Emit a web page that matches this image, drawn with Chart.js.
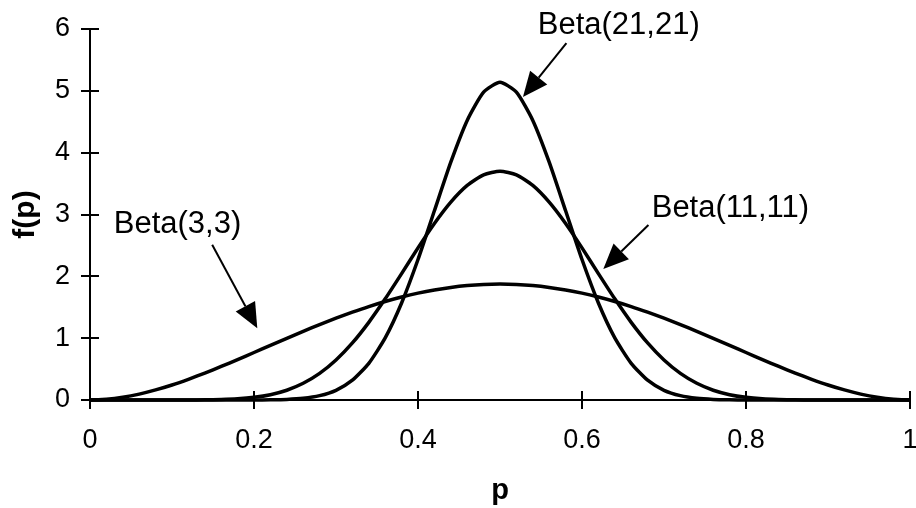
<!DOCTYPE html>
<html>
<head>
<meta charset="utf-8">
<script src="https://cdn.jsdelivr.net/npm/chart.js@4"></script>
<style>
html, body { margin: 0; padding: 0; background: #fff; }
#wrap { width: 916px; height: 508px; }
</style>
</head>
<body>
<div id="wrap"><canvas id="beta"></canvas></div>
<script>
// p values along the x axis
var pValues = [0, 0.02, 0.04, 0.06, 0.08, 0.1, 0.12, 0.14, 0.16, 0.18,
  0.2, 0.22, 0.24, 0.26, 0.28, 0.3, 0.32, 0.34, 0.36, 0.38,
  0.4, 0.42, 0.44, 0.46, 0.48, 0.5, 0.52, 0.54, 0.56, 0.58,
  0.6, 0.62, 0.64, 0.66, 0.68, 0.7, 0.72, 0.74, 0.76, 0.78,
  0.8, 0.82, 0.84, 0.86, 0.88, 0.9, 0.92, 0.94, 0.96, 0.98, 1];

// f(p)
var beta33 = [0, 0.012, 0.044, 0.095, 0.163, 0.243, 0.335, 0.435, 0.542, 0.654,
  0.768, 0.883, 0.998, 1.111, 1.219, 1.323, 1.420, 1.511, 1.593, 1.665,
  1.728, 1.780, 1.821, 1.851, 1.869, 1.875, 1.869, 1.851, 1.821, 1.780,
  1.728, 1.665, 1.593, 1.511, 1.420, 1.323, 1.219, 1.111, 0.998, 0.883,
  0.768, 0.654, 0.542, 0.435, 0.335, 0.243, 0.163, 0.095, 0.044, 0.012, 0];

var beta1111 = [0, 0, 0, 0, 0, 0.0001, 0.0007, 0.0025, 0.0075, 0.019,
  0.043, 0.086, 0.158, 0.270, 0.430, 0.647, 0.923, 1.256, 1.636, 2.044,
  2.460, 2.855, 3.200, 3.470, 3.641, 3.700, 3.641, 3.470, 3.200, 2.855,
  2.460, 2.044, 1.636, 1.256, 0.923, 0.647, 0.430, 0.270, 0.158, 0.086,
  0.043, 0.019, 0.0075, 0.0025, 0.0007, 0.0001, 0, 0, 0, 0, 0];

var beta2121 = [0, 0, 0, 0, 0, 0, 0, 0, 0, 0.0001,
  0.0007, 0.003, 0.009, 0.027, 0.070, 0.157, 0.320, 0.593, 1.004, 1.569,
  2.272, 3.060, 3.846, 4.521, 4.978, 5.140, 4.978, 4.521, 3.846, 3.060,
  2.272, 1.569, 1.004, 0.593, 0.320, 0.157, 0.070, 0.027, 0.009, 0.003,
  0.0007, 0.0001, 0, 0, 0, 0, 0, 0, 0, 0, 0];

var xTickLabels = ['0', '0.2', '0.4', '0.6', '0.8', '1'];
var yTickLabels = ['0', '1', '2', '3', '4', '5', '6'];

// callouts: text spot, arrow tail and arrow tip, all in data units
var notes = [
  { text: 'Beta(21,21)', at: [0.546, 5.92], from: [0.581, 5.77], to: [0.528, 4.90] },
  { text: 'Beta(11,11)', at: [0.685, 2.96], from: [0.681, 2.83], to: [0.626, 2.12] },
  { text: 'Beta(3,3)',   at: [0.029, 2.70], from: [0.149, 2.51], to: [0.204, 1.16] }
];

function toPoints(vals) {
  return pValues.map(function (p, i) { return { x: p, y: vals[i] }; });
}

Chart.defaults.font.family = '"Liberation Sans", Arial, sans-serif';
Chart.defaults.color = '#000';

// ticks that cross the axis + the arrow callouts
var extras = {
  id: 'extras',
  afterDraw: function (chart) {
    var c = chart.ctx, xs = chart.scales.x, ys = chart.scales.y;
    c.save();
    c.strokeStyle = '#000';
    c.fillStyle = '#000';
    c.lineWidth = 2;
    c.beginPath();
    xs.ticks.forEach(function (t, i) {
      var px = Math.round(xs.getPixelForTick(i));
      c.moveTo(px, ys.bottom);
      c.lineTo(px, ys.bottom - 9);
    });
    ys.ticks.forEach(function (t, i) {
      var py = Math.round(ys.getPixelForTick(i));
      c.moveTo(xs.left, py);
      c.lineTo(xs.left + 9, py);
    });
    c.stroke();

    c.font = '31px "Liberation Sans", Arial, sans-serif';
    c.textAlign = 'left';
    c.textBaseline = 'alphabetic';
    notes.forEach(function (n) {
      c.fillText(n.text, xs.getPixelForValue(n.at[0]), ys.getPixelForValue(n.at[1]));
      var x1 = xs.getPixelForValue(n.from[0]), y1 = ys.getPixelForValue(n.from[1]);
      var x2 = xs.getPixelForValue(n.to[0]), y2 = ys.getPixelForValue(n.to[1]);
      var ang = Math.atan2(y2 - y1, x2 - x1);
      var headLen = 25, headW = 11;
      var bx = x2 - headLen * Math.cos(ang), by = y2 - headLen * Math.sin(ang);
      c.beginPath();
      c.moveTo(x1, y1);
      c.lineTo(bx, by);
      c.stroke();
      c.beginPath();
      c.moveTo(x2, y2);
      c.lineTo(bx + headW * Math.sin(ang), by - headW * Math.cos(ang));
      c.lineTo(bx - headW * Math.sin(ang), by + headW * Math.cos(ang));
      c.closePath();
      c.fill();
    });
    c.restore();
  }
};

var lineStyle = {
  borderColor: '#000',
  backgroundColor: 'transparent',
  borderWidth: 3.5,
  pointRadius: 0,
  fill: false,
  tension: 0.2,
  clip: 6
};

new Chart(document.getElementById('beta'), {
  type: 'line',
  data: {
    datasets: [
      Object.assign({ label: 'Beta(3,3)', data: toPoints(beta33) }, lineStyle),
      Object.assign({ label: 'Beta(11,11)', data: toPoints(beta1111) }, lineStyle),
      Object.assign({ label: 'Beta(21,21)', data: toPoints(beta2121) }, lineStyle)
    ]
  },
  options: {
    responsive: true,
    maintainAspectRatio: false,
    animation: false,
    layout: { padding: { left: 0, right: 6, top: 29, bottom: 0 } },
    plugins: { legend: { display: false }, tooltip: { enabled: false } },
    scales: {
      x: {
        type: 'linear',
        min: 0,
        max: 1,
        ticks: {
          stepSize: 0.2,
          maxRotation: 0,
          autoSkip: false,
          padding: 15,
          font: { size: 27 },
          callback: function (v, i) { return xTickLabels[i]; }
        },
        grid: { drawOnChartArea: false, tickLength: 9, color: '#000', lineWidth: 2 },
        border: { color: '#000', width: 2 },
        title: { display: true, text: 'p', font: { size: 29, weight: 'bold' }, padding: 0 },
        afterFit: function (s) { s.height = 108; s.paddingRight = 0; }
      },
      y: {
        min: 0,
        max: 6,
        ticks: {
          stepSize: 1,
          padding: 11,
          font: { size: 27 },
          callback: function (v, i) { return yTickLabels[i]; }
        },
        grid: { drawOnChartArea: false, tickLength: 9, color: '#000', lineWidth: 2 },
        border: { color: '#000', width: 2 },
        title: { display: true, text: 'f(p)', font: { size: 30, weight: 'bold' }, padding: { top: 8, bottom: 0 } },
        afterFit: function (s) { s.width = 90; }
      }
    }
  },
  plugins: [extras]
});
</script>
</body>
</html>
